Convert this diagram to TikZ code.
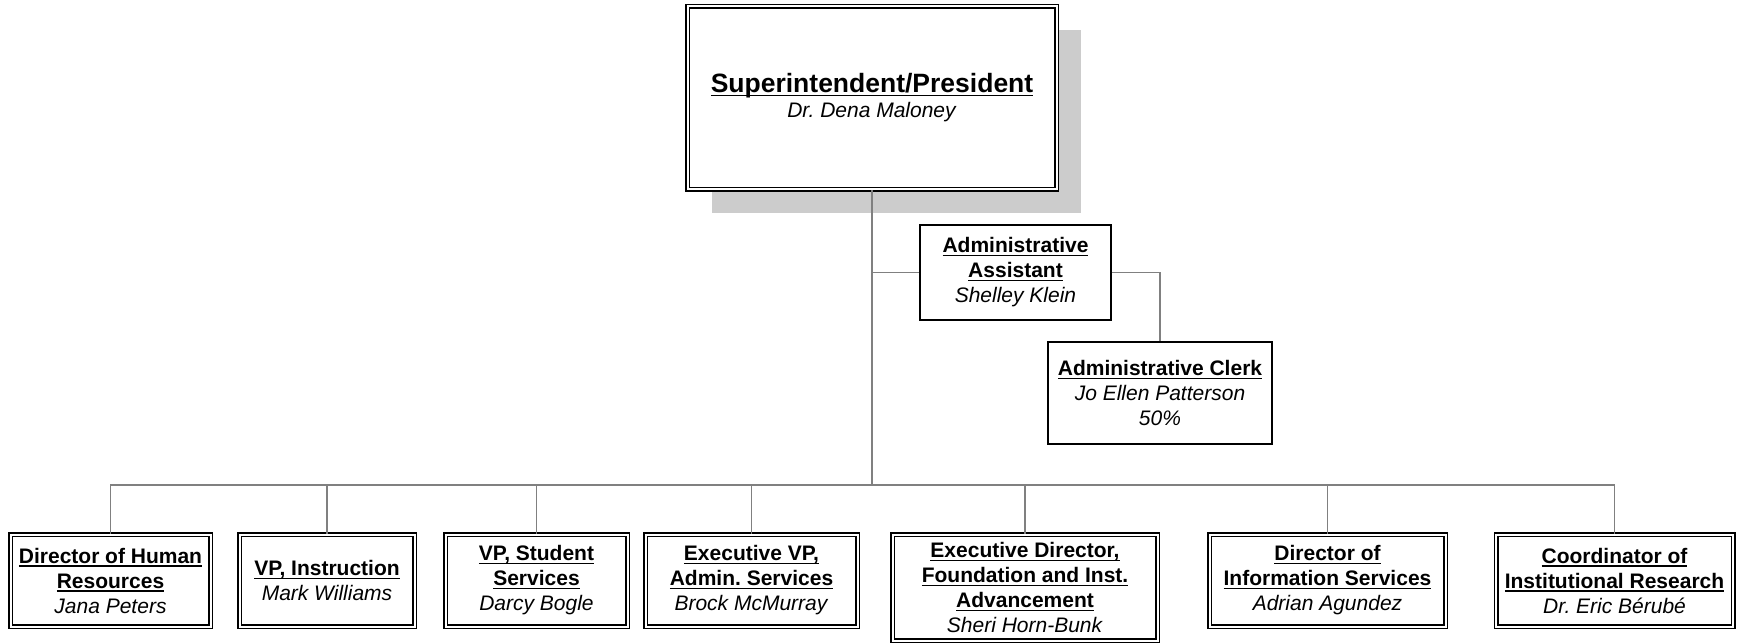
\documentclass[tikz,border=0pt]{standalone}
\usepackage{fontspec}
\setmainfont{Liberation Sans}
\usetikzlibrary{shadows}
\definecolor{linegray}{RGB}{128,128,128}
\definecolor{shadowgray}{RGB}{204,204,204}
\newsavebox{\ttlbox}
\newcommand{\ttl}[1]{\textbf{\sbox{\ttlbox}{#1}\rlap{\rule[-3.5pt]{\wd\ttlbox}{1.5pt}}\usebox{\ttlbox}}}
\newcommand{\who}[1]{\textit{#1}}
\frenchspacing

\begin{document}
\begin{tikzpicture}[x=1pt, y=-1pt,
  dbox/.style={draw, double, line width=1.5pt, double distance=2pt, fill=white,
    align=center, inner sep=0pt, font=\fontsize{21}{25}\selectfont},
  sbox/.style={draw, line width=1.6pt, fill=white,
    align=center, inner sep=0pt, font=\fontsize{21}{25}\selectfont},
  link/.style={draw=linegray, line width=1.1pt}]
  \useasboundingbox (0,0) rectangle (1737,644);

  % Superintendent box with shadow
  \node[dbox, minimum width=369pt, minimum height=183pt,
    drop shadow={shadow xshift=24pt, shadow yshift=-24pt, fill=shadowgray, opacity=1}]
    (pres) at (872,98) {{\fontsize{26.5}{30}\selectfont\ttl{Superintendent/President}}\\\who{Dr. Dena Maloney}};

  % Office staff
  \node[sbox, minimum width=191pt, minimum height=95pt] (asst) at (1015.5,272.5)
    {\ttl{Administrative}\\\ttl{Assistant}\\\who{Shelley Klein}};
  \node[sbox, minimum width=224pt, minimum height=102pt] (clerk) at (1160,393)
    {\ttl{Administrative Clerk}\\\who{Jo Ellen Patterson}\\\who{50\%}};

  % Direct reports
  \node[dbox, minimum width=200pt, minimum height=92pt] (hr) at (110.5,580.5)
    {\ttl{Director of Human}\\\ttl{Resources}\\\who{Jana Peters}};
  \node[dbox, minimum width=175pt, minimum height=92pt] (inst) at (327,580.5)
    {\ttl{VP, Instruction}\\\who{Mark Williams}};
  \node[dbox, minimum width=182pt, minimum height=92pt] (stud) at (536.5,580.5)
    {\ttl{VP, Student}\\\ttl{Services}\\\who{Darcy Bogle}};
  \node[dbox, minimum width=212pt, minimum height=92pt] (admin) at (751.5,580.5)
    {\ttl{Executive VP,}\\\ttl{Admin. Services}\\\who{Brock McMurray}};
  \node[dbox, minimum width=265pt, minimum height=106pt] (found) at (1025,587.5)
    {\ttl{Executive Director,}\\\ttl{Foundation and Inst.}\\\ttl{Advancement}\\\who{Sheri Horn-Bunk}};
  \node[dbox, minimum width=236pt, minimum height=92pt] (info) at (1327.5,580.5)
    {\ttl{Director of}\\\ttl{Information Services}\\\who{Adrian Agundez}};
  \node[dbox, minimum width=237pt, minimum height=92pt] (ir) at (1614.5,580.5)
    {\ttl{Coordinator of}\\\ttl{Institutional Research}\\\who{Dr. Eric Bérubé}};

  % Connectors
  \coordinate (bus) at (872,485);
  \draw[link] (pres.south) -- (bus);
  \draw[link] (pres.south |- asst.west) -- (asst.west);
  \draw[link] (asst.east) -| (clerk.north);
  \foreach \n in {hr,inst,stud,admin,found,info,ir}
    \draw[link] (bus) -| (\n.north);
\end{tikzpicture}
\end{document}
